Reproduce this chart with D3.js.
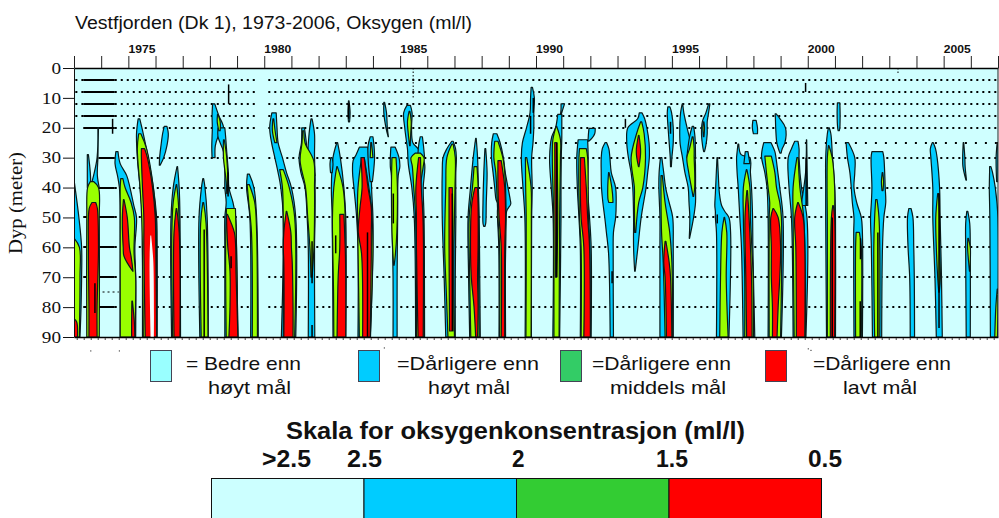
<!DOCTYPE html>
<html><head><meta charset="utf-8">
<script src="https://cdn.jsdelivr.net/npm/d3@7"></script>
<style>html,body{margin:0;padding:0;background:#fff}svg{display:block}text{fill:#111}</style>
</head><body><svg id="c" width="999" height="518"></svg>
<script>
// Values: [depth in metres, left edge, right edge]; edges are years after 1973.
const baseYear = 1973, endYear = 2007;
const depthTicks = [0,10,20,30,40,50,60,70,80,90];
const yearLabels = [1975,1980,1985,1990,1995,2000,2005];

const blueBands = [
 [[38,0,0.01],[40,0,.04],[50,0,.18],[60,0,.28],[70,0,.28],[80,0,.26],[90,0,.22]],
 [[20,.88,.9],[30,.85,.88],[36,.72,.86],[40,.6,.93]],
 [[29,.49,.53],[35,.49,.6],[40,.49,.62]],
 [[28,1.54,1.62],[32,1.51,1.7],[36,1.6,1.94],[40,1.67,2.06],[46,1.7,2.2],[50,1.7,2.3],[60,1.7,2.24],[70,1.7,2.27],[90,1.7,2.27]],
 [[17,2.36,2.42],[22,2.3,2.55],[30,2.33,2.73],[40,2.43,2.92],[50,2.52,3.04],[60,2.52,3.06],[90,2.52,3.06]],
 [[19.5,3.32,3.42],[22,3.26,3.47],[26,3.2,3.42],[30,3.15,3.3],[32.5,3.14,3.17]],
 [[33,3.79,3.81],[40,3.65,3.87],[50,3.57,3.9],[90,3.59,3.92]],
 [[37,4.74,4.77],[40,4.69,4.82],[50,4.6,4.9],[90,4.63,4.94]],
 [[12,5.1,5.18],[16,5.08,5.33],[20,5.09,5.5],[23,5.08,5.3],[26,5.07,5.2],[30,5.08,5.19]],
 [[20,5.3,5.55],[23,5.3,5.58],[28,5.5,5.62],[35,5.55,5.68],[40,5.55,5.7],[45,5.6,5.85],[50,5.55,5.95],[60,5.55,5.98],[90,5.55,6.03]],
 [[35.5,6.38,6.45],[40,6.35,6.62],[50,6.47,6.72],[90,6.5,6.78]],
 [[15,7.28,7.44],[20,7.2,7.47],[25,7.27,7.51],[30,7.39,7.67],[35,7.51,7.82],[40,7.61,8],[50,7.7,8.16],[90,7.63,8.16]],
 [[20,8.38,8.48],[25,8.37,8.55],[30,8.28,8.6],[35,8.35,8.85],[40,8.5,8.87],[50,8.58,8.87],[60,8.62,8.85],[90,8.62,8.86]],
 [[17,8.72,8.76],[22,8.65,8.85],[29,8.6,8.85],[36,8.6,8.87]],
 [[25,9.67,9.7],[30,9.53,9.8],[40,9.47,9.93],[50,9.5,10],[90,9.53,10]],
 [[30,9.45,9.5],[32,9.42,9.53],[35,9.44,9.5]],
 [[11,10.1,10.12],[15,10.08,10.16],[18,10.1,10.14]],
 [[26.5,10.5,10.8],[29,10.38,10.95],[31,10.27,11],[35,10.25,10.95],[40,10.3,10.95],[50,10.4,11],[60,10.45,11],[90,10.45,10.91]],
 [[23,10.9,11],[26,10.82,11.04],[30,10.82,11.06],[34,10.85,11.03],[38,10.9,10.98]],
 [[11.5,11.4,11.43],[15,11.4,11.5],[20,11.48,11.53],[23,11.56,11.57]],
 [[26.5,11.66,11.82],[30,11.64,11.96],[33,11.64,11.99],[36,11.68,11.93],[50,11.7,11.91],[70,11.74,11.89],[90,11.74,11.89]],
 [[12.5,12.25,12.38],[15,12.13,12.44],[20,12.17,12.42],[25,12.24,12.47],[27,12.27,12.66],[32,12.3,12.9],[40,12.43,12.85],[50,12.52,12.88],[90,12.57,12.9]],
 [[23,12.74,12.82],[26,12.68,12.86],[30,12.65,12.9]],
 [[24.5,13.9,13.95],[27,13.72,14.04],[30,13.58,14.07],[35,13.55,14.05],[50,13.55,14.05],[70,13.62,14.03],[90,13.68,14.03]],
 [[23.5,14.78,14.8],[30,14.69,14.85],[40,14.59,14.88],[50,14.5,14.91],[70,14.52,14.93],[90,14.56,14.95]],
 [[27,15.12,15.15],[35,15.08,15.2],[45,15.05,15.17],[52,15.05,15.15],[53,15.08,15.12]],
 [[22,15.43,15.56],[25,15.37,15.68],[30,15.36,15.8],[35,15.42,15.87],[40,15.48,15.97],[44,15.53,16.05],[45.5,15.6,16.07],[48,15.58,15.92],[60,15.63,15.88],[90,15.64,15.88]],
 [[6.5,16.82,16.87],[10,16.8,16.94],[15,16.78,16.92],[20,16.65,16.92],[25,16.5,16.89],[30,16.46,16.84],[40,16.52,16.86],[50,16.59,16.84],[90,16.6,16.83]],
 [[12,17.92,18.05],[14,17.92,17.98],[15.5,17.9,17.93]],
 [[15.5,17.8,17.95],[20,17.72,17.95],[23,17.58,17.95],[30,17.5,17.93],[40,17.56,17.92],[50,17.63,17.92],[90,17.62,17.87]],
 [[20.2,18.95,19.18],[22,18.93,19.16],[23.5,18.92,19.06],[24.5,18.91,18.94]],
 [[24,18.55,18.9],[30,18.5,18.92],[40,18.52,18.9],[50,18.58,18.97],[60,18.63,19.03],[90,18.63,19.03]],
 [[25,19.54,19.6],[27,19.44,19.68],[30,19.4,19.72],[35,19.4,19.77],[40,19.41,19.93],[45,19.46,19.95],[50,19.53,19.93],[55,19.59,19.85],[62,19.67,19.84],[90,19.73,19.85]],
 [[15,20.8,20.9],[17,20.74,21],[20,20.38,21.08],[25,20.34,21.16],[30,20.4,21.17],[35,20.5,21.11],[40,20.56,21.05],[50,20.59,20.87],[60,20.59,20.75],[68,20.63,20.65]],
 [[30,21.58,21.63],[35,21.53,21.7],[40,21.52,21.77],[45,21.54,21.9],[50,21.56,22.03],[60,21.56,22.05],[90,21.56,22.05]],
 [[13,21.85,21.93],[15,21.83,21.99],[20,21.86,22.05],[25,21.9,22.05],[30,21.94,22],[33,21.95,21.98]],
 [[12,22.38,22.4],[15,22.32,22.44],[20,22.29,22.56],[25,22.3,22.7],[30,22.39,22.85],[35,22.48,22.87],[40,22.6,22.87],[45,22.63,22.87],[50,22.66,22.8],[57,22.64,22.65]],
 [[19.5,22.75,22.8],[23,22.65,22.85],[30,22.55,22.87]],
 [[12,23.35,23.4],[15,23.25,23.35],[18,23.12,23.3],[22,23.09,23.3],[26,23.13,23.25],[28,23.17,23.2]],
 [[30,23.66,23.68],[36,23.63,23.71],[42,23.6,23.75],[46,23.58,23.83],[48,23.6,23.95],[50,23.6,24.1],[55,23.64,24.16],[90,23.64,24.1]],
 [[25.5,24.43,24.46],[29,24.39,24.55],[30,24.38,24.87],[35,24.4,24.89],[40,24.44,24.93],[50,24.5,24.97],[60,24.56,24.98],[90,24.62,25.05]],
 [[28,24.7,24.8],[32,24.65,24.87]],
 [[17.5,24.98,25.1],[20,24.96,25.15],[22,25,25.15]],
 [[25,25.38,25.65],[28,25.31,25.79],[30,25.3,25.83],[35,25.42,25.9],[40,25.5,25.97],[50,25.54,26.09],[90,25.54,26.03]],
 [[15.3,25.8,25.83],[17,25.81,25.98],[20,25.82,26.18],[25,25.86,26.16],[27,25.92,26.06],[28.5,25.98,26.02]],
 [[24.5,26.52,26.64],[27,26.4,26.68],[30,26.28,26.68],[40,26.31,26.77],[50,26.4,26.97],[90,26.46,26.93]],
 [[24,26.95,26.96],[35,26.92,26.98],[46,26.75,27]],
 [[11.7,28.09,28.18],[15,28.08,28.19],[20,28.1,28.18],[21,28.12,28.16]],
 [[20,27.76,27.79],[22,27.72,27.85],[30,27.66,27.91],[40,27.66,27.99],[50,27.66,28.02],[90,27.69,28.02]],
 [[25,28.41,28.5],[30,28.46,28.73],[35,28.55,28.73],[40,28.6,28.7],[45,28.64,28.8],[50,28.7,28.97],[55,28.69,29.01],[90,28.7,29.01]],
 [[28,29.36,29.76],[30,29.33,29.8],[40,29.36,29.85],[45,29.34,29.87],[50,29.31,29.8],[60,29.34,29.75],[90,29.38,29.72]],
 [[47,30.72,30.8],[50,30.67,30.87],[60,30.69,30.9],[70,30.75,30.92],[90,30.77,30.93]],
 [[25,31.58,31.62],[27,31.51,31.7],[30,31.53,31.76],[40,31.6,31.85],[50,31.6,31.87],[70,31.68,31.92],[90,31.73,31.95]],
 [[25,32.72,32.74],[30,32.7,32.78],[33,32.71,32.79],[37.5,32.82,32.84]],
 [[48,32.85,32.89],[52,32.81,32.96],[60,32.81,32.98],[90,32.83,32.98]],
 [[33,33.69,33.74],[35,33.69,33.8],[40,33.68,33.9],[50,33.7,34],[90,33.72,34]],
 [[25,33.97,34],[30,33.93,34],[38,33.95,34]]
];
const greenBands = [
 [[57,0,.01],[60,0,.2],[70,0,.22],[90,0,.2]],
 [[38,.6,.72],[40,.5,.9],[50,.47,.93],[90,.47,.93]],
 [[37,1.72,1.8],[40,1.7,1.88],[45,1.7,2.1],[50,1.7,2.22],[62,1.7,2.21],[70,1.7,2.27],[90,1.7,2.24]],
 [[22,2.38,2.46],[27,2.33,2.67],[40,2.43,2.92],[50,2.49,3.01],[90,2.55,3.04]],
 [[39,3.76,3.78],[45,3.65,3.84],[55,3.6,3.88],[90,3.63,3.9]],
 [[45,4.74,4.77],[52,4.66,4.86],[90,4.68,4.93]],
 [[15.5,5.28,5.3],[18,5.27,5.38],[21,5.33,5.38]],
 [[24,5.5,5.53],[30,5.5,5.62],[38,5.6,5.66],[42,5.62,5.64]],
 [[47,5.61,5.94],[60,5.58,5.98],[90,5.6,6.03]],
 [[39,6.37,6.45],[45,6.43,6.65],[55,6.53,6.72],[90,6.56,6.75]],
 [[17,7.32,7.35],[21,7.3,7.4],[25,7.39,7.47]],
 [[34,7.57,7.7],[40,7.67,7.92],[50,7.7,8.12],[90,7.7,8.12]],
 [[21,8.41,8.46],[25,8.39,8.5],[31,8.32,8.82],[40,8.52,8.85],[50,8.6,8.85],[60,8.68,8.83],[70,8.72,8.76]],
 [[33,9.67,9.69],[40,9.56,9.9],[50,9.51,9.98],[60,9.52,9.96],[75,9.55,9.9],[90,9.56,9.7]],
 [[25,10.92,10.95],[30,10.9,11]],
 [[30,10.58,10.68],[40,10.45,10.85],[47,10.43,10.95],[60,10.45,11],[90,10.5,10.9]],
 [[30,11.7,11.85],[40,11.68,11.9],[55,11.7,11.88],[63,11.74,11.82],[66,11.76,11.78]],
 [[14.5,12.33,12.36],[18,12.27,12.41],[22,12.3,12.39],[26,12.35,12.37]],
 [[28.5,12.55,12.75],[30,12.4,12.88],[33,12.45,12.85],[40,12.5,12.75],[50,12.57,12.85],[90,12.6,12.88]],
 [[25.5,13.9,13.95],[30,13.72,14.03],[40,13.68,14.02],[60,13.64,13.98],[75,13.7,13.98],[90,13.76,14]],
 [[33,14.72,14.83],[40,14.66,14.87],[50,14.54,14.87],[70,14.56,14.89],[90,14.6,14.91]],
 [[24.5,15.48,15.6],[30,15.45,15.78],[35,15.52,15.85],[50,15.6,15.9],[60,15.66,15.88],[90,15.66,15.85]],
 [[30,16.61,16.66],[40,16.62,16.82],[50,16.64,16.83],[90,16.63,16.82]],
 [[19.5,17.74,17.76],[24,17.62,17.9],[30,17.6,17.9],[50,17.65,17.87],[90,17.66,17.85]],
 [[27,18.6,18.85],[30,18.58,18.9],[50,18.6,18.93],[60,18.66,18.98],[90,18.66,18.98]],
 [[35,19.67,19.69],[40,19.64,19.79],[44,19.65,19.83],[45,19.68,19.83]],
 [[18,20.85,20.89],[22,20.7,20.98],[30,20.5,21.03],[40,20.62,20.93],[45,20.62,20.78],[55,20.63,20.67]],
 [[36,21.6,21.65],[45,21.6,21.75],[55,21.62,21.92],[65,21.68,22],[90,21.75,22.03]],
 [[23,22.75,22.78],[27,22.65,22.82],[30,22.55,22.82],[35,22.62,22.84],[40,22.72,22.84],[43,22.78,22.8]],
 [[18,23.16,23.18],[20,23.14,23.2],[23,23.16,23.18]],
 [[50,23.92,23.94],[55,23.84,24.02],[70,23.79,24],[90,23.76,24.07]],
 [[34,24.74,24.76],[40,24.63,24.87],[50,24.63,24.89],[70,24.68,24.99],[90,24.68,25]],
 [[29.5,25.42,25.66],[35,25.48,25.79],[40,25.54,25.85],[45,25.6,25.97],[50,25.58,26.03],[90,25.58,26]],
 [[30,26.6,26.65],[40,26.46,26.71],[50,26.46,26.85],[90,26.5,26.92]],
 [[26,27.76,27.78],[30,27.72,27.9],[40,27.71,27.99],[50,27.72,27.99],[90,27.72,27.99]],
 [[55,28.78,28.9],[60,28.76,28.97],[90,28.76,28.97]],
 [[44,29.5,29.55],[50,29.46,29.62],[60,29.43,29.65],[90,29.46,29.65]],
 [[35,29.74,29.76],[38,29.71,29.79],[41,29.73,29.77]],
 [[42,31.78,31.82],[50,31.71,31.85],[60,31.73,31.85],[70,31.78,31.88],[75,31.82,31.84]],
 [[57,32.89,32.91],[60,32.88,32.98],[65,32.92,32.98],[68,32.95,32.97]],
 [[74,33.97,34],[80,33.92,34],[90,33.88,33.98]]
];
const redBands = [
 [[84,0,.01],[85,0,.1],[90,0,.13]],
 [[45,.66,.8],[47,.56,.86],[60,.53,.9],[80,.55,.85],[90,.55,.85]],
 [[44,1.82,1.84],[50,1.78,1.96],[60,1.81,2.04],[63,1.84,2.1],[68,2.16,2.17]],
 [[78,2.13,2.15],[85,2.12,2.22],[90,2.12,2.24]],
 [[27,2.48,2.6],[30,2.48,2.7],[40,2.52,2.89],[50,2.57,2.99],[60,2.57,3.01],[90,2.62,3.04]],
 [[47,3.76,3.78],[55,3.68,3.87],[90,3.68,3.9]],
 [[49,5.61,5.65],[55,5.63,5.9],[60,5.66,5.95],[68,5.74,5.96],[80,5.74,6],[90,5.7,6.03]],
 [[48,7.81,7.83],[55,7.72,7.98],[60,7.7,8],[65,7.72,8.03],[80,7.73,8.06],[90,7.72,8.06]],
 [[49,9.78,9.93],[60,9.78,9.98],[70,9.72,10],[90,9.68,10]],
 [[30,10.56,10.68],[40,10.6,10.82],[47,10.52,10.94],[55,10.46,10.94],[62,10.58,10.94],[90,10.62,10.9]],
 [[30,12.68,12.75],[40,12.58,12.78],[50,12.6,12.84],[60,12.6,12.86],[90,12.66,12.85]],
 [[40,13.8,13.92],[60,13.8,13.95],[88,13.82,13.95]],
 [[40,14.75,14.85],[46,14.63,14.87],[60,14.59,14.87],[70,14.62,14.85],[80,14.72,14.87],[90,14.78,14.85]],
 [[31,15.6,15.72],[40,15.6,15.85],[50,15.64,15.88],[60,15.72,15.85],[90,15.72,15.85]],
 [[25,17.69,17.77],[50,17.7,17.8],[70,17.72,17.76]],
 [[30,18.64,18.78],[40,18.63,18.85],[50,18.66,18.9],[60,18.76,18.97],[90,18.76,19]],
 [[22.5,20.77,20.79],[28,20.69,20.85],[33,20.77,20.79]],
 [[58,21.75,21.78],[65,21.7,21.9],[70,21.75,21.95],[90,21.8,22]],
 [[41,24.76,24.78],[50,24.69,24.84],[70,24.72,24.93],[90,24.75,24.95]],
 [[47,25.72,25.74],[50,25.64,25.91],[60,25.66,26],[70,25.66,25.97],[80,25.7,25.91],[90,25.7,25.87]],
 [[45,26.63,26.65],[50,26.52,26.83],[60,26.56,26.89],[90,26.58,26.89]],
 [[46,27.92,27.94],[50,27.87,27.99],[90,27.83,27.99]]
];
const holeBands = [[[56,2.81,2.84],[65,2.78,2.92],[90,2.82,2.94]]];
// Short black vertical strokes: [years after 1973, top depth, bottom depth]
const sampleMarks = [[.77,72,82],[1.42,17,22],[5.69,5.5,12],[5.67,35,43],[5.78,63,67],[4.79,54,90],[8.76,58,72],[8.76,86,90],
 [9.63,56,62],[10.11,12,17],[10.8,55,90],[11.75,42,52],[13.92,42,88],[16.9,10,15],[16.8,16,22],[17.76,25,70],[20.29,17,20],
 [21.95,18,22],[23.67,49,52],[28.94,57,64],[28.93,78,90],[29.58,55,90],[31.83,42,87],[19.8,68,72],[27.9,50,90],[26.94,30,46],[26.92,5,8]];
// Depth rows of the routine sampling, and the stretches in which they run.
const dottedDepths = [4,8,12,16,20,30,40,50,60,70,80];
const dottedSpans = [[1.5,6.72],[7.15,34]];
const earlySpan = [.05,.34];
const earlyDepths = [4,8,12,16];
const sparseRow = {depth:25, spans:[[9.6,34]]};
const shortRow = {depth:75, spans:[[1.05,1.65]]};
const denseDepths = [0,4,8,12,16,20,50,60,70,80];
const denseSpan = [.34,1.5];
const denseLowerDepths = [30,40];
const denseLowerSpan = [.9,1.5];
const columnRows = [[12.48,0,10],[30.32,0,2]];
const specks = [[.6,94.5],[1.65,94.5],[11.4,93.5],[27,93.8],[27.1,94.3]];

const legendItems = [
 {color:"#99FFFF", a:"= Bedre enn", b:"høyt mål"},
 {color:"#00CCFF", a:"=Dårligere enn", b:"høyt mål"},
 {color:"#33CC66", a:"=Dårligere enn", b:"middels mål"},
 {color:"#FF0000", a:"=Dårligere enn", b:"lavt mål"}];
const scaleColors = ["#CCFFFF","#00CCFF","#33CC33","#FF0000"];
const scaleLabels = [">2.5","2.5","2","1.5","0.5"];

const svg = d3.select("#c");
const L=74,R=998,T=68,B=337;
const x = d3.scaleLinear().domain([baseYear,endYear]).range([L,R]);
const y = d3.scaleLinear().domain([0,90]).range([T,B]);
const t = v => x(baseYear+v);
const fit = (sel,w) => sel.attr("textLength",w).attr("lengthAdjust","spacingAndGlyphs");
svg.append("defs").append("clipPath").attr("id","plot").append("rect").attr("x",L).attr("y",T).attr("width",R-L).attr("height",B-T);

svg.append("rect").attr("x",L).attr("y",T).attr("width",R-L).attr("height",B-T).attr("fill","#CFFFFF");
const plot = svg.append("g").attr("clip-path","url(#plot)");

// sampling rows
const hrow=(d,s,w,dash)=>{const py=Math.round(y(d));plot.append("line").attr("x1",t(s[0])).attr("x2",t(s[1])).attr("y1",py).attr("y2",py)
  .attr("stroke","#000").attr("stroke-width",w).attr("stroke-dasharray",dash);};
dottedDepths.forEach(d=>dottedSpans.forEach(s=>hrow(d,s,2,"2 4")));
earlyDepths.forEach(d=>hrow(d,earlySpan,2,"2 4"));
sparseRow.spans.forEach(s=>hrow(sparseRow.depth,s,2,"2 8"));
shortRow.spans.forEach(s=>hrow(shortRow.depth,s,1,"2 3"));
denseDepths.forEach(d=>hrow(d,denseSpan,2,null));
denseLowerDepths.forEach(d=>hrow(d,denseLowerSpan,2,null));

const area = d3.area().y(d=>y(d[0])).x0(d=>t(d[1])).x1(d=>t(d[2])).curve(d3.curveCatmullRom.alpha(0.5));
const draw=(bands,fill)=>plot.append("g").selectAll("path").data(bands).join("path")
  .attr("d",area).attr("fill",fill).attr("stroke","#0a1a1a").attr("stroke-width",1.2).attr("stroke-linejoin","round");
draw(blueBands,"#00CCFF");
draw(greenBands,"#99FF00");
draw(redBands,"#FF0000");
plot.append("g").selectAll("path").data(holeBands).join("path").attr("d",area).attr("fill","#F4FFFF");

plot.append("g").selectAll("line").data(sampleMarks).join("line")
  .attr("x1",d=>t(d[0])).attr("x2",d=>t(d[0])).attr("y1",d=>y(d[1])).attr("y2",d=>y(d[2]))
  .attr("stroke","#000").attr("stroke-width",1.5);
plot.append("g").selectAll("line").data(columnRows).join("line")
  .attr("x1",d=>t(d[0])).attr("x2",d=>t(d[0])).attr("y1",d=>y(d[1])).attr("y2",d=>y(d[2]))
  .attr("stroke","#000").attr("stroke-width",1).attr("stroke-dasharray","1.5 2");
svg.append("g").selectAll("rect").data(specks).join("rect")
  .attr("x",d=>t(d[0])).attr("y",d=>y(d[1])).attr("width",1).attr("height",1).attr("fill","#000");

// axes
const yearTicks = d3.range(baseYear,endYear+1);
const topAxis = svg.append("g").attr("transform",`translate(0,${T})`)
  .call(d3.axisTop(x).tickValues(yearTicks).tickFormat("").tickSize(12).tickSizeOuter(0));
topAxis.selectAll("line").attr("stroke","#222").attr("stroke-width",1);
topAxis.selectAll("path").attr("stroke","#000").attr("stroke-width",1.6);
const botAxis = svg.append("g").attr("transform",`translate(0,${B})`)
  .call(d3.axisBottom(x).tickValues(yearTicks).tickFormat("").tickSize(0).tickSizeOuter(0));
botAxis.selectAll("path").attr("stroke","#000").attr("stroke-width",1.6);
svg.append("line").attr("x1",t(.1)).attr("x2",t(34)).attr("y1",B+2).attr("y2",B+2)
  .attr("stroke","#444").attr("stroke-width",2).attr("stroke-dasharray","1 6");
const leftAxis = svg.append("g").attr("transform",`translate(${L},0)`)
  .call(d3.axisLeft(y).tickValues(depthTicks).tickSize(11).tickSizeOuter(0).tickPadding(2));
leftAxis.selectAll("path,line").attr("stroke","#111").attr("stroke-width",1);
leftAxis.selectAll("text").attr("font-family","'Liberation Serif'").attr("font-size",16).attr("fill","#111")
  .each(function(d){fit(d3.select(this),String(d).length*9.6);});
svg.append("line").attr("x1",R).attr("x2",R).attr("y1",T).attr("y2",B).attr("stroke","#222").attr("stroke-width",1);

svg.append("g").selectAll("text").data(yearLabels).join("text")
  .attr("x",d=>x(d+.5)).attr("y",53).attr("text-anchor","middle")
  .attr("font-family","'Liberation Sans'").attr("font-weight","bold").attr("font-size",11).text(d=>d).call(fit,27);

svg.append("text").attr("x",75).attr("y",29).attr("font-family","'Liberation Sans'").attr("font-size",18)
  .text("Vestfjorden (Dk 1), 1973-2006, Oksygen (ml/l)").call(fit,397);
svg.append("text").attr("transform","translate(22,203) rotate(-90)").attr("text-anchor","middle")
  .attr("font-family","'Liberation Serif'").attr("font-size",19).text("Dyp (meter)").call(fit,102);

// legend
const legendSwatchX = d3.scaleOrdinal().domain(legendItems.map(d=>d.a+d.b)).range([150,358,560,765]);
const legendA = [[186,115],[397,142],[592,139],[813,138]], legendB=[[208,83],[428,82],[610,116],[843,74]];
const lg = svg.append("g").selectAll("g").data(legendItems).join("g");
lg.append("rect").attr("x",d=>legendSwatchX(d.a+d.b)+.5).attr("y",350.5).attr("width",21).attr("height",31)
  .attr("fill",d=>d.color).attr("stroke","#445").attr("stroke-width",1);
lg.append("text").attr("x",(d,i)=>legendA[i][0]).attr("y",370)
  .attr("font-family","'Liberation Sans'").attr("font-size",19).text(d=>d.a)
  .attr("textLength",(d,i)=>legendA[i][1]).attr("lengthAdjust","spacingAndGlyphs");
lg.append("text").attr("x",(d,i)=>legendB[i][0]).attr("y",394)
  .attr("font-family","'Liberation Sans'").attr("font-size",19).text(d=>d.b)
  .attr("textLength",(d,i)=>legendB[i][1]).attr("lengthAdjust","spacingAndGlyphs");

// oxygen scale
svg.append("text").attr("x",286).attr("y",439).attr("font-family","'Liberation Sans'")
  .attr("font-weight","bold").attr("font-size",24.5).text("Skala for oksygenkonsentrasjon (ml/l)").call(fit,459);
const sx = d3.scaleBand().domain(scaleColors).range([211,821]);
svg.append("g").selectAll("rect").data(scaleColors).join("rect")
  .attr("x",d=>sx(d)+.5).attr("y",478.5).attr("width",sx.bandwidth()).attr("height",60)
  .attr("fill",d=>d).attr("stroke","#111").attr("stroke-width",1);
const labelPos=[[262,49],[347,35],[512,12.5],[656,32],[808,34]];
svg.append("g").selectAll("text").data(scaleLabels).join("text")
  .attr("x",(d,i)=>labelPos[i][0]).attr("y",467).attr("font-family","'Liberation Sans'")
  .attr("font-weight","bold").attr("font-size",23.5).text(d=>d)
  .attr("textLength",(d,i)=>labelPos[i][1]).attr("lengthAdjust","spacingAndGlyphs");
</script></body></html>
